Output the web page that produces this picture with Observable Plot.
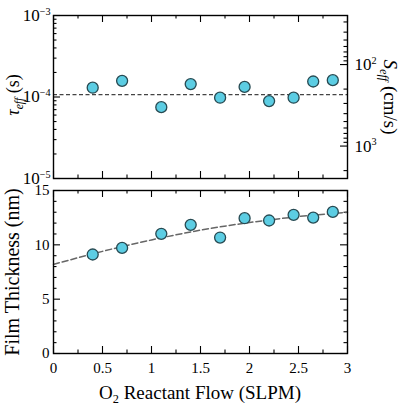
<!DOCTYPE html>
<html>
<head>
<meta charset="utf-8">
<script src="https://cdn.jsdelivr.net/npm/d3@7"></script>
<script src="https://cdn.jsdelivr.net/npm/@observablehq/plot@0.6"></script>
<style>
  body { margin: 0; background: #fff; }
  #fig { position: relative; width: 403px; height: 405px; font-family: "Liberation Serif", "DejaVu Serif", serif; }
  #fig svg { position: absolute; left: 0; overflow: visible; background: transparent; }
</style>
</head>
<body>
<div id="fig"></div>
<script>
// O2 reactant flow (SLPM) for each deposition
const flow = [0.4, 0.7, 1.1, 1.4, 1.7, 1.95, 2.2, 2.45, 2.65, 2.85];
// effective lifetime (s)
const tauEff = [1.30e-4, 1.58e-4, 7.5e-5, 1.44e-4, 9.8e-5, 1.33e-4, 8.9e-5, 9.8e-5, 1.55e-4, 1.61e-4];
// mean lifetime (dashed reference line)
const tauMean = 1.07e-4;
// film thickness (nm)
const thickness = [9.11, 9.72, 11.01, 11.84, 10.67, 12.45, 12.24, 12.76, 12.51, 13.03];
// trend curve through the thickness data
const fitFlow = [0, 0.5, 1, 1.5, 2, 2.5, 3];
const fitThickness = [8.2, 9.4, 10.45, 11.35, 12.05, 12.6, 13.0];
// half wafer thickness (cm): S_eff = W / (2 tau_eff)
const halfThicknessCm = 0.025;

// tick values
const flowMajor = [0, 0.5, 1, 1.5, 2, 2.5, 3];
const flowMinor = [0.25, 0.75, 1.25, 1.75, 2.25, 2.75];
const tauMajor = [1e-5, 1e-4, 1e-3];
const tauMinor = [2, 3, 4, 5, 6, 7, 8, 9].flatMap(m => [m * 1e-5, m * 1e-4]);
const sMajor = [100, 1000];
const sMinor = [30, 40, 50, 60, 70, 80, 90, 200, 300, 400, 500, 600, 700, 800, 900, 2000];
const thickMajor = [0, 5, 10, 15];
const thickMinor = [1, 2, 3, 4, 6, 7, 8, 9, 11, 12, 13, 14];

const SERIF = "'Liberation Serif', 'Times New Roman', serif";
const W = 403, ML = 53, MR = 56;
const FW = W - ML - MR;
const FH = 163;
const MAJ = 7, MIN = 3.5;
const dotFill = "#5ccde3", dotStroke = "#274a52";

function xTicks(vals, len) {
  return [
    Plot.tickX(vals, {x: d => d, insetBottom: FH - len, stroke: "black", strokeWidth: 1.1}),
    Plot.tickX(vals, {x: d => d, insetTop: FH - len, stroke: "black", strokeWidth: 1.1})
  ];
}
function yTicksLeft(vals, len) {
  return Plot.tickY(vals, {y: d => d, insetRight: FW - len, stroke: "black", strokeWidth: 1.1});
}
function yTicksRight(vals, len) {
  return Plot.tickY(vals, {y: d => d, insetLeft: FW - len, stroke: "black", strokeWidth: 1.1});
}
// "10|-4" → 10 with a raised exponent
function superscripts(svg) {
  d3.select(svg).selectAll("text").each(function () {
    const t = this.textContent;
    if (!t.includes("|")) return;
    const [base, exp] = t.split("|");
    const s = d3.select(this);
    s.text(base);
    s.append("tspan").attr("dy", "-0.6em").attr("font-size", "0.6em").text(exp);
  });
}
const power = v => "10|" + String(Math.round(Math.log10(v))).replace("-", "\u2212");

// lifetime panel
const lifetimePanel = Plot.plot({
  width: W, height: 185,
  marginTop: 15, marginBottom: 7, marginLeft: ML, marginRight: MR,
  style: {fontFamily: SERIF, fontSize: "14px", background: "transparent", color: "black"},
  x: {domain: [0, 3], axis: null},
  y: {type: "log", domain: [1e-5, 1e-3], axis: null},
  marks: [
    ...xTicks(flowMajor, MAJ), ...xTicks(flowMinor, MIN),
    yTicksLeft(tauMajor, MAJ), yTicksLeft(tauMinor, MIN),
    yTicksRight(sMajor.map(s => halfThicknessCm / s), MAJ),
    yTicksRight(sMinor.map(s => halfThicknessCm / s), MIN),
    Plot.axisY(tauMajor, {anchor: "left", tickSize: 0, tickPadding: 3, tickFormat: power, fontSize: 17, label: null}),
    // S_eff labels on the right, placed through the lifetime scale
    Plot.text(sMajor, {y: s => halfThicknessCm / s, text: power, frameAnchor: "right", dx: 7,
      textAnchor: "start", fontSize: 17, fill: "black"}),
    Plot.ruleY([tauMean], {stroke: "#444", strokeWidth: 1.2, strokeDasharray: "4,2.5"}),
    Plot.dot(flow.map((f, i) => ({flow: f, tau: tauEff[i]})), {x: "flow", y: "tau", r: 5.5, fill: dotFill, stroke: dotStroke, strokeWidth: 1.3}),
    Plot.frame({stroke: "black", strokeWidth: 1.4})
  ]
});
lifetimePanel.style.top = "0px";
superscripts(lifetimePanel);
{
  const g = d3.select(lifetimePanel);
  const l = g.append("text").attr("transform", "translate(19,95) rotate(-90)").attr("text-anchor", "middle")
    .attr("font-size", 18).attr("fill", "black");
  l.append("tspan").attr("font-style", "italic").text("\u03c4");
  l.append("tspan").attr("font-style", "italic").attr("font-size", "0.65em").attr("dy", "0.35em").text("eff");
  l.append("tspan").attr("dy", "-0.23em").text(" (s)");
  const r = g.append("text").attr("transform", "translate(384,97) rotate(90)").attr("text-anchor", "middle")
    .attr("font-size", 19).attr("fill", "black");
  r.append("tspan").attr("font-style", "italic").text("S");
  r.append("tspan").attr("font-style", "italic").attr("font-size", "0.65em").attr("dy", "0.35em").text("eff");
  r.append("tspan").attr("dy", "-0.23em").text(" (cm/s)");
}

// thickness panel
const thicknessPanel = Plot.plot({
  width: W, height: 220,
  marginTop: 5, marginBottom: 52, marginLeft: ML, marginRight: MR,
  style: {fontFamily: SERIF, fontSize: "15px", background: "transparent", color: "black"},
  x: {domain: [0, 3], axis: null},
  y: {domain: [0, 15], axis: null},
  marks: [
    ...xTicks(flowMajor, MAJ), ...xTicks(flowMinor, MIN),
    yTicksLeft(thickMajor, MAJ), yTicksLeft(thickMinor, MIN),
    yTicksRight(thickMajor, MAJ), yTicksRight(thickMinor, MIN),
    Plot.axisY(thickMajor, {anchor: "left", tickSize: 0, tickPadding: 4, tickFormat: d => String(d), fontSize: 15, label: null}),
    Plot.axisX(flowMajor, {anchor: "bottom", tickSize: 0, tickPadding: 9, tickFormat: d => String(d), fontSize: 15, label: null}),
    Plot.line(fitFlow.map((f, i) => ({flow: f, t: fitThickness[i]})), {x: "flow", y: "t", curve: "natural",
      stroke: "#666", strokeWidth: 1.5, strokeDasharray: "6,3"}),
    Plot.dot(flow.map((f, i) => ({flow: f, t: thickness[i]})), {x: "flow", y: "t", r: 5.5, fill: dotFill, stroke: dotStroke, strokeWidth: 1.3}),
    Plot.frame({stroke: "black", strokeWidth: 1.4})
  ]
});
thicknessPanel.style.top = "185px";
{
  const g = d3.select(thicknessPanel);
  g.append("text").attr("transform", "translate(19,87) rotate(-90)").attr("text-anchor", "middle")
    .attr("font-size", 20).attr("fill", "black").text("Film Thickness (nm)");
  const xl = g.append("text").attr("transform", "translate(200,214)").attr("text-anchor", "middle")
    .attr("font-size", 19).attr("fill", "black");
  xl.append("tspan").text("O");
  xl.append("tspan").attr("font-size", "0.65em").attr("dy", "0.35em").text("2");
  xl.append("tspan").attr("dy", "-0.23em").text(" Reactant Flow (SLPM)");
}

document.getElementById("fig").append(lifetimePanel, thicknessPanel);
</script>
</body>
</html>
